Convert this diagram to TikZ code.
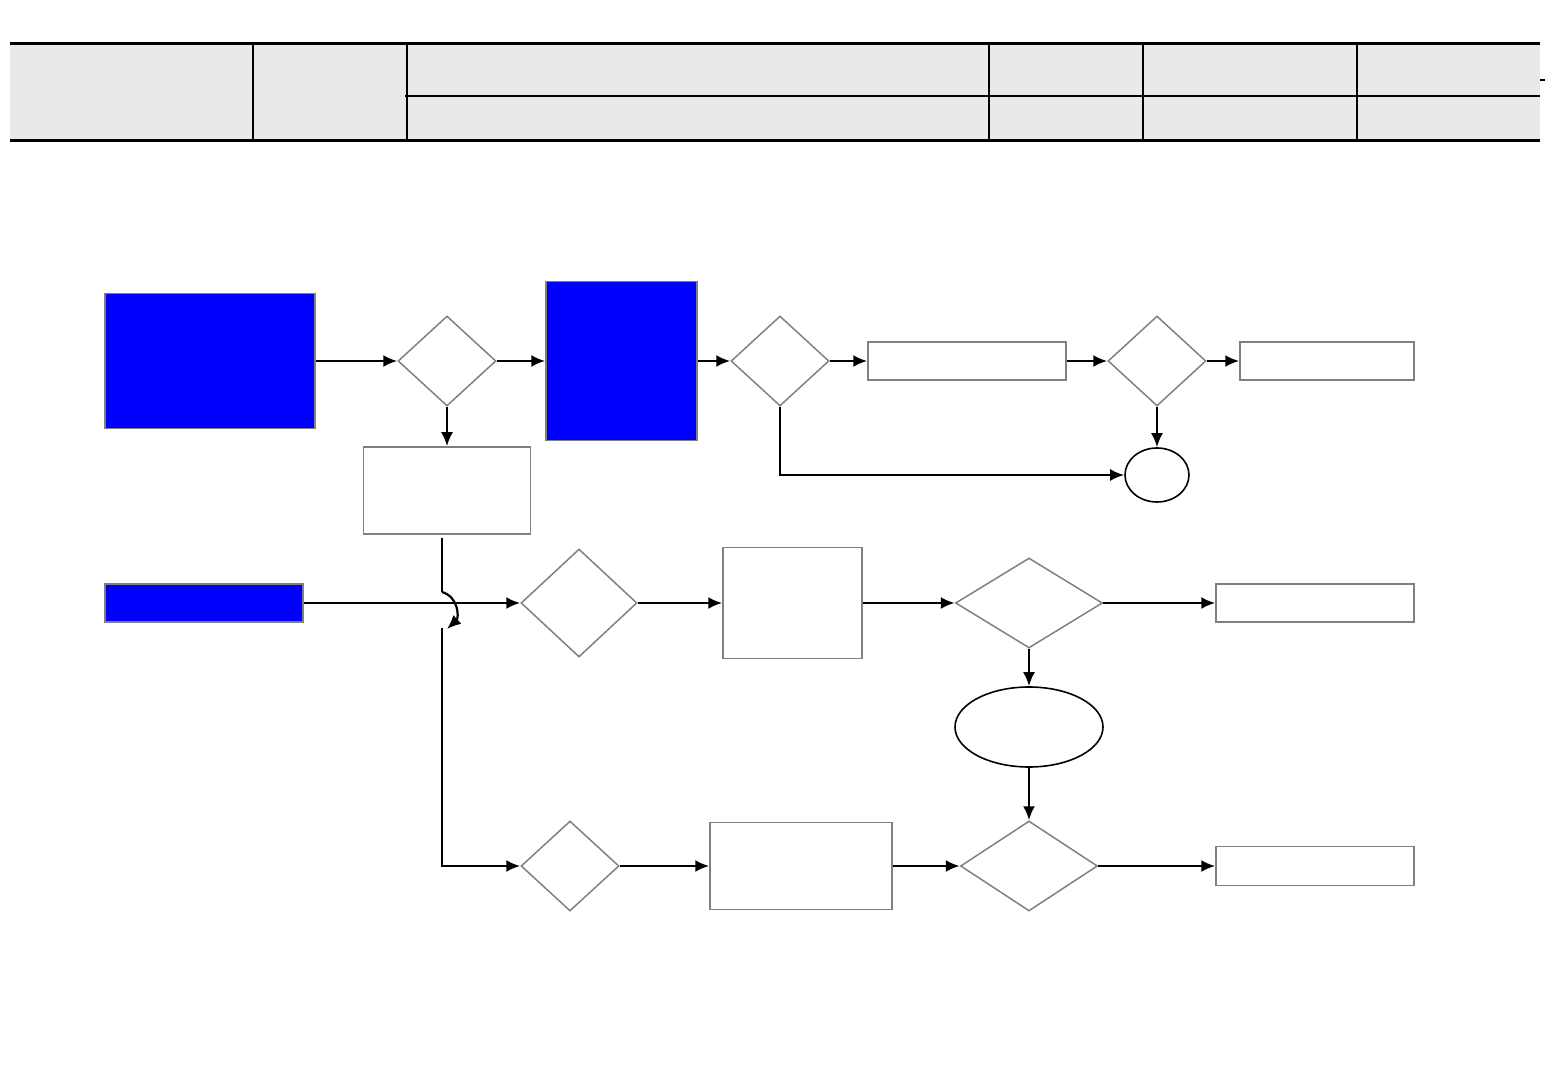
\documentclass[tikz,border=0pt]{standalone}
\usetikzlibrary{shapes.geometric,arrows.meta}
\definecolor{hdr}{HTML}{E9E9E9}
\definecolor{bord}{HTML}{808080}
\tikzset{
  pbox/.style={draw=bord,line width=0.75pt,fill=white,inner sep=0pt,rectangle},
  bluebox/.style={pbox,fill=blue},
  dec/.style={draw=bord,line width=0.75pt,diamond,inner sep=0pt,shape aspect=1},
  oval/.style={draw=black,line width=0.8pt,ellipse,inner sep=0pt},
  conn/.style={line width=1.1pt,-{Latex[length=7pt,width=6pt]}},
  plain/.style={line width=1.1pt},
  hthick/.style={line width=1.5pt},
  hthin/.style={line width=1pt}
}
\begin{document}
\begin{tikzpicture}[x=0.5pt,y=-0.5pt]
\useasboundingbox (0,0) rectangle (1560,1080);
% header table
\fill[hdr] (10,44) rectangle (1540,141);
\draw[hthick] (10,44) -- (1540,44);
\draw[hthick] (10,141) -- (1540,141);
\draw[hthin] (405,96) -- (1540,96);
\foreach \x in {253,407,989,1143,1357} \draw[hthin] (\x,44) -- (\x,141);
\draw[hthin] (1540,80) -- (1545,80);
% nodes
\node[bluebox,minimum width=105pt,minimum height=67.5pt] (b1) at (210,361) {};
\node[dec,minimum width=49pt,minimum height=45pt] (d1) at (447,361) {};
\node[bluebox,minimum width=75.5pt,minimum height=79.5pt] (b2) at (621.5,361) {};
\node[dec,minimum width=49pt,minimum height=45pt] (d2) at (780,361) {};
\node[pbox,minimum width=99pt,minimum height=19pt] (b3) at (967,361) {};
\node[dec,minimum width=49pt,minimum height=45pt] (d3) at (1157,361) {};
\node[pbox,minimum width=87pt,minimum height=19pt] (b4) at (1327,361) {};
\node[oval,minimum width=32pt,minimum height=27pt] (c1) at (1157,475) {};
\node[pbox,minimum width=83.5pt,minimum height=43.5pt] (b5) at (447,490.5) {};
\node[bluebox,minimum width=99pt,minimum height=19pt] (b6) at (204,603) {};
\node[dec,minimum width=58pt,minimum height=54pt] (d4) at (579,603) {};
\node[pbox,minimum width=69.5pt,minimum height=55.5pt] (b7) at (792.5,603) {};
\node[dec,minimum width=73.5pt,minimum height=45pt] (d5) at (1029,603) {};
\node[pbox,minimum width=99pt,minimum height=19pt] (b8) at (1315,603) {};
\node[oval,minimum width=74pt,minimum height=40pt] (e1) at (1029,727) {};
\node[dec,minimum width=49pt,minimum height=45pt] (d7) at (570,866) {};
\node[pbox,minimum width=91pt,minimum height=43.5pt] (b9) at (801,866) {};
\node[dec,minimum width=68.5pt,minimum height=45pt] (d6) at (1029,866) {};
\node[pbox,minimum width=99pt,minimum height=19.5pt] (b10) at (1315,866) {};
% connectors
\draw[conn] (b1.east) -- (d1.west);
\draw[conn] (d1.east) -- (b2.west);
\draw[conn] (b2.east) -- (d2.west);
\draw[conn] (d2.east) -- (b3.west);
\draw[conn] (b3.east) -- (d3.west);
\draw[conn] (d3.east) -- (b4.west);
\draw[conn] (d3.south) -- (c1.north);
\draw[conn] (d2.south) |- (c1.west);
\draw[conn] (d1.south) -- (b5.north);
\draw[conn] (b6.east) -- (d4.west);
\draw[conn] (d4.east) -- (b7.west);
\draw[conn] (b7.east) -- (d5.west);
\draw[conn] (d5.east) -- (b8.west);
\draw[conn] (d5.south) -- (e1.north);
\draw[conn] (e1.south) -- (d6.north);
\draw[conn] (d7.east) -- (b9.west);
\draw[conn] (b9.east) -- (d6.west);
\draw[conn] (d6.east) -- (b10.west);
% line from b5 with hop
\coordinate (s0) at (442,538);
\coordinate (s1) at (442,592);
\coordinate (s2) at (447,629);
\coordinate (s3) at (442,628);
\draw[plain] (s0) -- (s1);
\draw[conn] (s1) .. controls (459,597) and (459,618) .. (s2);
\draw[conn] (s3) |- (d7.west);
\end{tikzpicture}
\end{document}
